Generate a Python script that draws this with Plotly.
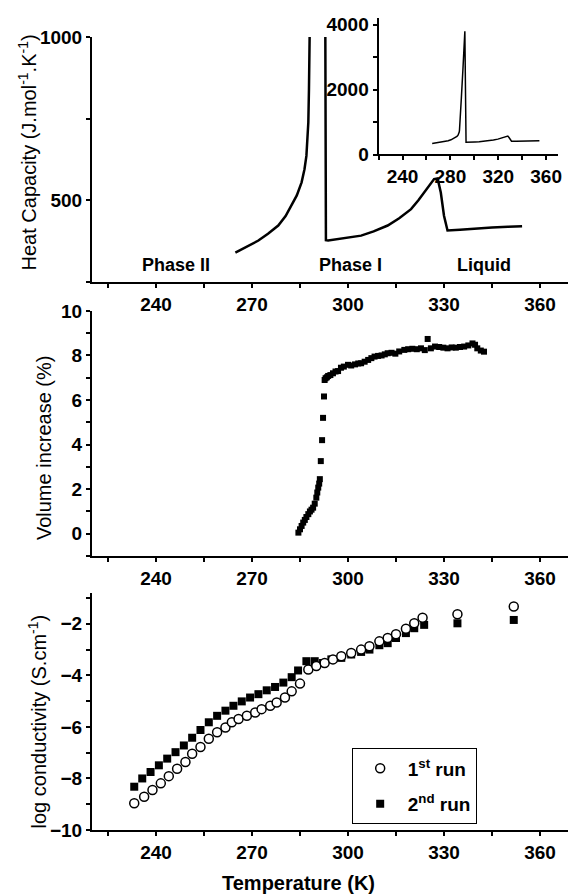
import plotly.graph_objects as go

# heat capacity curve (DSC), same data in main panel and inset
cp_T = [264.8, 268.0, 272.0, 275.0, 278.2, 280.5, 282.4, 284.0, 285.5, 286.4, 287.0, 287.4,
        287.6, 287.8, 288.0, 289.2, 290.5, 291.6, 292.1, 293.1, 293.8, 297.0, 300.5, 304.1,
        308.0, 312.4, 316.0, 319.7, 322.0, 323.8, 325.5, 326.9, 328.0, 329.0, 330.0, 331.1,
        335.0, 340.4, 345.0, 350.0, 354.4]
cp = [340, 356, 377, 398, 423, 452, 484, 515, 555, 595, 636, 690,
      738, 839, 1000, 1750, 2625, 3775, 3790, 378, 377, 382, 387, 392,
      405, 423, 445, 473, 500, 524, 548, 565, 567, 524, 453, 408,
      410, 415, 417, 419, 421]

# volume increase
vol_T = [284.5, 285.0, 285.5, 286.0, 286.5, 287.0, 287.6, 288.1, 288.6, 289.1,
         289.6, 290.1, 290.4, 290.7, 291.0, 291.2, 291.5, 291.9, 292.2, 292.5,
         292.7, 293.0, 293.4, 293.8, 294.5, 295.3, 296.1, 296.9, 297.8, 298.7,
         300.0, 301.0, 302.2, 303.2, 304.1, 305.2, 306.3, 307.3, 308.3, 309.4,
         310.5, 311.5, 312.4, 313.6, 314.8, 316.0, 317.6, 318.8, 320.1, 321.5,
         322.8, 324.0, 324.9, 325.9, 327.2, 328.5, 329.8, 331.1, 332.4, 333.7,
         335.0, 336.3, 337.6, 338.9, 339.7, 340.4, 341.5, 342.5]
vol = [0.05, 0.2, 0.35, 0.5, 0.62, 0.75, 0.88, 1.0, 1.08, 1.17,
       1.35, 1.62, 1.85, 2.07, 2.25, 2.45, 3.26, 4.2, 5.2, 6.16,
       6.9, 6.98, 7.02, 7.08, 7.12, 7.2, 7.28, 7.3, 7.45, 7.5,
       7.58, 7.55, 7.6, 7.64, 7.65, 7.72, 7.8, 7.88, 7.95, 7.98,
       8.0, 8.05, 8.1, 8.12, 8.08, 8.18, 8.25, 8.28, 8.3, 8.28,
       8.32, 8.24, 8.74, 8.32, 8.4, 8.38, 8.35, 8.32, 8.36, 8.35,
       8.38, 8.4, 8.45, 8.54, 8.48, 8.32, 8.22, 8.17]

# conductivity, two runs
run1_T = [233.2, 236.3, 238.9, 241.5, 244.0, 246.6, 249.2, 251.3, 253.9, 256.5,
          259.1, 261.7, 263.7, 265.8, 268.4, 271.0, 273.0, 275.7, 277.7, 280.3,
          282.4, 285.0, 287.6, 290.1, 292.7, 295.3, 297.9, 301.0, 304.1, 306.7,
          309.8, 312.4, 315.0, 318.1, 320.7, 323.3, 334.2, 351.8]
run1 = [-8.96, -8.71, -8.45, -8.19, -7.91, -7.62, -7.36, -7.04, -6.78, -6.46,
        -6.21, -6.02, -5.82, -5.69, -5.57, -5.44, -5.31, -5.18, -5.05, -4.86,
        -4.62, -4.32, -3.77, -3.64, -3.52, -3.38, -3.26, -3.13, -3.0, -2.87,
        -2.68, -2.55, -2.40, -2.19, -1.98, -1.76, -1.63, -1.33]
run2_T = [233.2, 235.7, 238.3, 240.9, 243.5, 246.1, 248.7, 251.3, 253.9, 256.5,
          259.1, 261.7, 264.2, 266.8, 269.4, 272.0, 274.6, 277.2, 279.8, 282.4,
          284.4, 287.0, 289.6, 292.2, 294.8, 297.9, 301.0, 304.1, 306.7, 309.8,
          312.4, 315.0, 318.1, 320.7, 323.8, 334.2, 351.8]
run2 = [-8.32, -8.00, -7.75, -7.49, -7.23, -6.98, -6.72, -6.42, -6.12, -5.82,
        -5.57, -5.37, -5.18, -5.01, -4.86, -4.73, -4.58, -4.45, -4.28, -4.07,
        -3.81, -3.45, -3.45, -3.52, -3.38, -3.32, -3.19, -3.09, -3.00, -2.83,
        -2.75, -2.55, -2.36, -2.17, -2.04, -1.98, -1.85]

phase_labels = ["Phase II", "Phase I", "Liquid"]
phase_x = [246.2, 300.8, 342.6]

FONT = "Liberation Sans"
tickf = dict(family=FONT, size=19, color="black", weight="bold")

fig = go.Figure()
fig.add_trace(go.Scatter(x=cp_T, y=cp, mode="lines", line=dict(color="black", width=2.5),
                         showlegend=False, xaxis="x", yaxis="y"))
fig.add_trace(go.Scatter(x=cp_T, y=cp, mode="lines", line=dict(color="black", width=1.5),
                         showlegend=False, xaxis="x4", yaxis="y4"))
fig.add_trace(go.Scatter(x=vol_T, y=vol, mode="markers",
                         marker=dict(symbol="square", size=6, color="black"),
                         showlegend=False, xaxis="x2", yaxis="y2"))
fig.add_trace(go.Scatter(x=run2_T, y=run2, mode="markers", name="2<sup>nd</sup> run",
                         legendrank=2, legendgroup="b",
                         marker=dict(symbol="square", size=8, color="black"),
                         xaxis="x3", yaxis="y3"))
fig.add_trace(go.Scatter(x=run1_T, y=run1, mode="markers", name="1<sup>st</sup> run",
                         legendrank=1, legendgroup="a",
                         marker=dict(symbol="circle", size=9, color="white",
                                     line=dict(color="black", width=1.5)),
                         xaxis="x3", yaxis="y3"))


def xax(anchor, domain=(0, 1), dtick=30, minor=15, rng=(220, 370)):
    return dict(domain=list(domain), anchor=anchor, range=list(rng), dtick=dtick, tick0=0,
                showline=True, linewidth=2, linecolor="black", showgrid=False, zeroline=False,
                ticks="outside", ticklen=4, tickwidth=1.5, tickcolor="black", tickfont=tickf,
                minor=dict(dtick=minor, tick0=0, ticks="outside", ticklen=4, tickwidth=1.5,
                           tickcolor="black"))


def yax(anchor, domain, rng, dtick, minor):
    return dict(domain=list(domain), anchor=anchor, range=list(rng), dtick=dtick, tick0=0,
                showline=True, linewidth=2, linecolor="black", showgrid=False, zeroline=False,
                ticks="outside", ticklen=4, tickwidth=1.5, tickcolor="black", tickfont=tickf,
                minor=dict(dtick=minor, tick0=0, ticks="outside", ticklen=4, tickwidth=1.5,
                           tickcolor="black"))


annots = []
for lab, px in zip(phase_labels, phase_x):
    annots.append(dict(x=px, y=302, xref="x", yref="y", text=lab, showarrow=False,
                       font=dict(family=FONT, size=18, color="black", weight="bold")))

titlef = dict(family=FONT, size=20, color="black")
ytitles = [("Heat Capacity (J.mol<sup>-1</sup>.K<sup>-1</sup>)", -0.134, 0.834),
           ("Volume increase (%)", -0.101, 0.471),
           ("log conductivity (S.cm<sup>-1</sup>)", -0.114, 0.134)]
for txt, tx, ty in ytitles:
    annots.append(dict(x=tx, y=ty, xref="paper", yref="paper", textangle=-90,
                       xanchor="center", yanchor="middle",
                       text=txt, showarrow=False, font=titlef))
annots.append(dict(x=0.43, y=-0.065, xref="paper", yref="paper",
                   xanchor="center", yanchor="middle",
                   text="Temperature (K)", showarrow=False,
                   font=dict(family=FONT, size=20, color="black", weight="bold")))

# page body has an 8px margin, so the figure is shifted by 8px
fig.update_layout(
    width=568, height=886,
    margin=dict(l=84, r=0, t=7, b=64),
    paper_bgcolor="white", plot_bgcolor="white",
    xaxis=xax("y"),
    yaxis=yax("x", (0.6748, 0.9767), (250, 1000), 500, 250),
    xaxis2=xax("y2"),
    yaxis2=yax("x2", (0.3374, 0.6393), (-1, 10), 2, 1),
    xaxis3=xax("y3"),
    yaxis3=yax("x3", (0, 0.292), (-10, -0.8), 2, 1),
    xaxis4=xax("y4", domain=(0.597, 0.971), dtick=40, minor=20),
    yaxis4=yax("x4", (0.8319, 1.0), (0, 4200), 2000, 1000),
    legend=dict(x=0.541, y=0.1006, xanchor="left", yanchor="top",
                bordercolor="black", borderwidth=1, bgcolor="white",
                itemwidth=45, tracegroupgap=8, entrywidth=100,
                font=dict(family=FONT, size=19, color="black", weight="bold")),
    annotations=annots,
)
fig.write_html("out.html")
